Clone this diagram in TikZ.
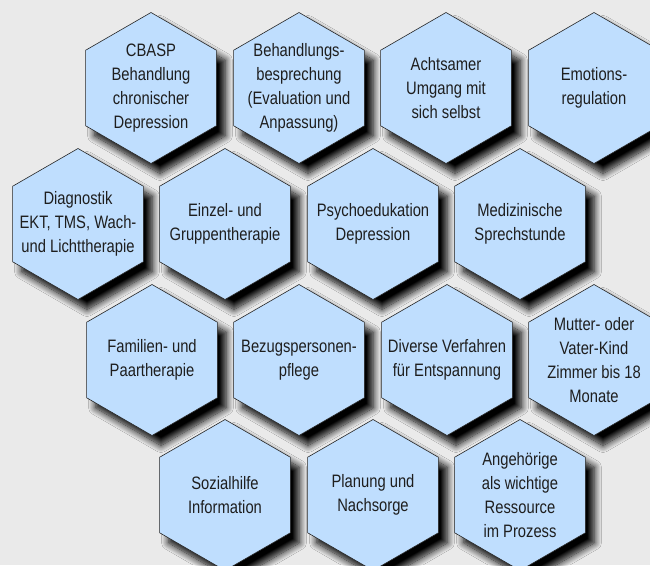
\documentclass[tikz,border=0pt]{standalone}
\usepackage{fontspec}
\setmainfont{Liberation Sans}[FakeStretch=0.82]
\usepackage{tikz}
\usetikzlibrary{shapes.geometric,shadows.blur}

\definecolor{hexblue}{RGB}{191,222,254}
\definecolor{bggray}{RGB}{234,234,234}
\definecolor{hexink}{RGB}{30,30,30}

\begin{document}
\begin{tikzpicture}[x=1pt,y=-1pt,
		hexcell/.style={regular polygon, regular polygon sides=6, shape border rotate=30, minimum size=151pt, inner sep=0pt, draw=black!85, line width=0.6pt, fill=hexblue, blur shadow={shadow xshift=9pt, shadow yshift=-10pt, shadow blur radius=7pt, shadow blur steps=12, shadow opacity=100}},
		hexlabel/.style={font=\fontsize{18}{24}\selectfont, text=hexink, align=center, inner sep=0pt}]
	\useasboundingbox (0,0) rectangle (650,565);
	\clip (0,0) rectangle (650,565);
	\fill[bggray] (0,0) rectangle (650,565);
	% first row
	\node[hexcell, label={[hexlabel]center:{CBASP\\Behandlung\\chronischer\\Depression}}] (cbasp) at (151,88) {};
	\node[hexcell, label={[hexlabel]center:{Behandlungs-\\besprechung\\(Evaluation und\\Anpassung)}}] (besprechung) at (299,88) {};
	\node[hexcell, label={[hexlabel]center:{Achtsamer\\Umgang mit\\sich selbst}}] (achtsam) at (446,88) {};
	\node[hexcell, label={[hexlabel]center:{Emotions-\\regulation}}] (emotion) at (594,88) {};
	% second row
	\node[hexcell, label={[hexlabel]center:{Diagnostik\\EKT, TMS, Wach-\\und Lichttherapie}}] (diagnostik) at (78,224) {};
	\node[hexcell, label={[hexlabel]center:{Einzel- und\\Gruppentherapie}}] (einzel) at (225,224) {};
	\node[hexcell, label={[hexlabel]center:{Psychoedukation\\Depression}}] (psychoedu) at (373,224) {};
	\node[hexcell, label={[hexlabel]center:{Medizinische\\Sprechstunde}}] (medizin) at (520,224) {};
	% third row
	\node[hexcell, label={[hexlabel]center:{Familien- und\\Paartherapie}}] (familie) at (152,360) {};
	\node[hexcell, label={[hexlabel]center:{Bezugspersonen-\\pflege}}] (bezug) at (299,360) {};
	\node[hexcell, label={[hexlabel]center:{Diverse Verfahren\\für Entspannung}}] (entspannung) at (447,360) {};
	\node[hexcell, label={[hexlabel]center:{Mutter- oder\\Vater-Kind\\Zimmer bis 18\\Monate}}] (mutterkind) at (594,360) {};
	% fourth row
	\node[hexcell, label={[hexlabel]center:{Sozialhilfe\\Information}}] (sozial) at (225,495) {};
	\node[hexcell, label={[hexlabel]center:{Planung und\\Nachsorge}}] (nachsorge) at (373,495) {};
	\node[hexcell, label={[hexlabel]center:{Angehörige\\als wichtige\\Ressource\\im Prozess}}] (angehoerige) at (520,495) {};
\end{tikzpicture}
\end{document}
